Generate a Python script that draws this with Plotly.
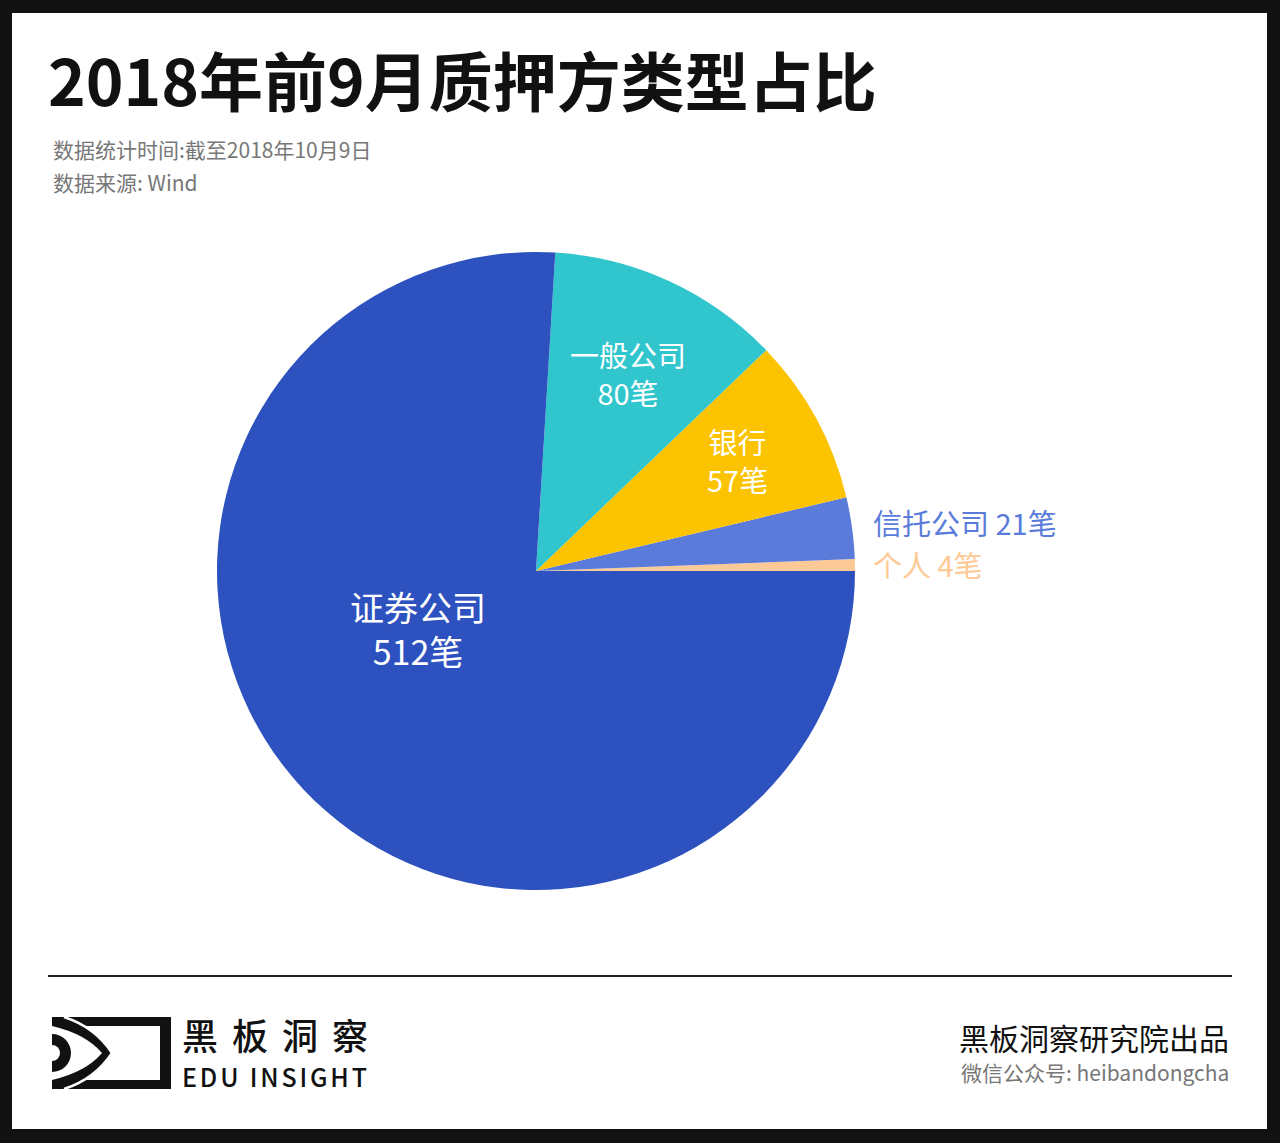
import plotly.graph_objects as go

W, H = 1280, 1143

# ---- data ----
categories = ["个人", "信托公司", "银行", "一般公司", "证券公司"]
values = [4, 21, 57, 80, 512]
unit = "笔"
colors = ["#FDCA97", "#5A7BDA", "#FBC300", "#31C6CD", "#2D51BF"]

title_text = "2018年前9月质押方类型占比"
subtitle_lines = ["数据统计时间:截至2018年10月9日", "数据来源: Wind"]
brand_cn = "黑板洞察"
brand_en = "EDU INSIGHT"
footer_lines = ["黑板洞察研究院出品", "微信公众号: heibandongcha"]

FONT = "Noto Sans CJK SC"


def px(x):
    return x / W


def py(y):
    return 1 - y / H


def path(cmds):
    out = []
    for c in cmds:
        if isinstance(c, str):
            out.append(c)
        else:
            out.append(f"{px(c[0]):.5f},{py(c[1]):.5f}")
    return " ".join(out)


# first slice starts at 3 o'clock and slices run counterclockwise
first_share = values[0] / sum(values)
fig = go.Figure()
fig.add_trace(go.Pie(
    labels=categories,
    values=values,
    marker=dict(colors=colors, line=dict(width=0)),
    sort=False,
    direction="counterclockwise",
    rotation=90 - 360 * first_share,
    textinfo="none",
    textposition="none",
    hoverinfo="none",
    showlegend=False,
    domain=dict(x=[px(217), px(855)], y=[py(890), py(252)]),
))

shapes = []
# white card inside black frame
shapes.append(dict(type="rect", xref="paper", yref="paper", layer="below",
                   x0=px(12), x1=px(1267), y0=py(1129), y1=py(13),
                   fillcolor="white", line=dict(width=0)))
# divider
shapes.append(dict(type="line", xref="paper", yref="paper",
                   x0=px(48), x1=px(1232), y0=py(976), y1=py(976),
                   line=dict(color="#222222", width=2)))
# logo
shapes.append(dict(type="rect", xref="paper", yref="paper",
                   x0=px(52), x1=px(171), y0=py(1089), y1=py(1017),
                   fillcolor="#111111", line=dict(width=0)))
shapes.append(dict(type="rect", xref="paper", yref="paper",
                   x0=px(52), x1=px(160), y0=py(1080), y1=py(1026),
                   fillcolor="white", line=dict(width=0)))
eye = path(["M", (52, 1017), "L", (64, 1017), "Q", (95, 1027), (112, 1053),
            "Q", (95, 1079), (64, 1089), "L", (52, 1089), "L", (52, 1080),
            "Q", (86, 1072), (102, 1053), "Q", (86, 1034), (52, 1026), "Z"])
shapes.append(dict(type="path", xref="paper", yref="paper", path=eye,
                   fillcolor="#111111", line=dict(width=0)))
for top in (True, False):
    s = 1 if top else -1
    p = path(["M", (64, 1053 - s * 36), "Q", (95, 1053 - s * 26), (112, 1053)])
    shapes.append(dict(type="path", xref="paper", yref="paper", path=p,
                       line=dict(color="white", width=2.5)))
shapes.append(dict(type="circle", xref="paper", yref="paper",
                   x0=px(52 - 19), x1=px(52 + 19), y0=py(1053 + 19), y1=py(1053 - 19),
                   fillcolor="#111111", line=dict(width=0)))
shapes.append(dict(type="circle", xref="paper", yref="paper",
                   x0=px(52 - 8), x1=px(52 + 8), y0=py(1053 + 8), y1=py(1053 - 8),
                   fillcolor="white", line=dict(width=0)))
shapes.append(dict(type="rect", xref="paper", yref="paper",
                   x0=px(26), x1=px(52), y0=py(1080), y1=py(1026),
                   fillcolor="white", line=dict(width=0)))

ann = []


def text(x, y, s, size, color, xanchor="left", weight=400, family=FONT):
    ann.append(dict(x=px(x), y=py(y), xref="paper", yref="paper", text=s,
                    showarrow=False, xanchor=xanchor, yanchor="middle",
                    align="center" if xanchor == "center" else xanchor,
                    borderpad=0,
                    font=dict(family=family, size=size, color=color, weight=weight)))


text(47, 78, title_text, 64, "#111111", weight=700)
text(52, 149, subtitle_lines[0], 21, "#777777")
text(52, 182, subtitle_lines[1], 21, "#777777")

# slice labels (inside: white, outside: slice colour)
inside_pos = {"证券公司": (418, 628, 34), "一般公司": (628, 373, 29), "银行": (737, 460, 29)}
outside_pos = {"信托公司": (872, 522, 29), "个人": (872, 564, 29)}
for cat, val, col in zip(categories, values, colors):
    if cat in inside_pos:
        x, y, fs = inside_pos[cat]
        text(x, y, f"{cat}<br>{val}{unit}", fs, "white", xanchor="center")
    else:
        x, y, fs = outside_pos[cat]
        text(x, y, f"{cat} {val}{unit}", fs, col)


# brand block: one two-line text, letter spacing via ideographic spaces
def spaced(s, size, gap):
    sp = f'<span style="font-size:{gap}px">\u3000</span>'
    parts = []
    for ch in s:
        if ch == " ":
            parts.append(f'<span style="font-size:{size}px"> </span>')
        else:
            parts.append(f'<span style="font-size:{size}px">{ch}</span>')
    return sp.join(parts)


brand_text = spaced(brand_cn, 36, 14) + "<br>" + spaced(brand_en, 25, 2.8)
text(181, 1051, brand_text, 28.5, "#111111", weight=500)

text(1230, 1037, footer_lines[0], 30, "#111111", xanchor="right")
text(1230, 1072, footer_lines[1], 21, "#777777", xanchor="right")

fig.update_layout(
    width=W, height=H, autosize=False,
    margin=dict(l=0, r=0, t=0, b=0),
    paper_bgcolor="#111111",
    plot_bgcolor="white",
    shapes=shapes,
    annotations=ann,
    font=dict(family=FONT),
)

fig.write_html("out.html", config={"displayModeBar": False},
               post_script="document.body.style.margin='0';")
